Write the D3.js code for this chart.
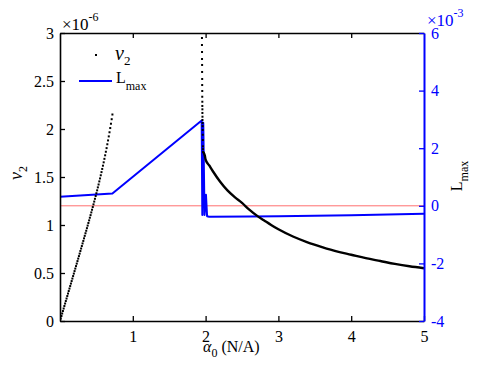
<!DOCTYPE html>
<html>
<head>
<meta charset="utf-8">
<script src="https://cdn.jsdelivr.net/npm/d3@7"></script>
<style>
body { margin: 0; background: #fff; }
text { font-family: "Liberation Serif", "Times New Roman", serif; }
</style>
</head>
<body>
<div id="chart"></div>
<script>
// v2 (x1e-6) against alpha0, first branch (dotted)
var alphaRise = [0,0.01,0.02,0.03,0.04,0.05,0.06,0.07,0.08,0.09,0.10,0.11,0.12,0.13,0.14,0.15,0.16,0.17,0.18,0.19,
  0.20,0.21,0.22,0.23,0.24,0.25,0.26,0.27,0.28,0.29,0.30,0.31,0.32,0.33,0.34,0.35,0.36,0.37,0.38,0.39,
  0.40,0.41,0.42,0.43,0.44,0.45,0.46,0.47,0.48,0.49,0.50,0.51,0.52,0.53,0.54,0.55,0.56,0.57,0.58,0.59,
  0.60,0.61,0.62,0.63,0.64,0.65,0.66,0.67,0.68,0.69,0.70,0.71,0.72];
var v2Rise = [0,0.026,0.052,0.078,0.104,0.130,0.156,0.182,0.208,0.234,0.260,0.286,0.312,0.338,0.364,0.390,0.416,0.442,0.468,0.494,
  0.520,0.546,0.572,0.598,0.624,0.650,0.676,0.702,0.729,0.755,0.781,0.808,0.834,0.861,0.887,0.914,0.940,0.967,0.994,1.021,
  1.048,1.076,1.103,1.131,1.159,1.187,1.215,1.244,1.273,1.302,1.331,1.361,1.392,1.422,1.454,1.485,1.518,1.551,1.584,1.618,
  1.653,1.689,1.726,1.763,1.801,1.841,1.881,1.923,1.966,2.010,2.055,2.102,2.151];

// second branch, near-vertical dotted part
var alphaDrop = [1.950,1.950,1.951,1.951,1.952,1.952,1.953,1.953,1.954,1.954,1.955,1.955,1.956,1.956,1.957,1.957,1.958,1.959,1.960,1.961,1.962,1.963,1.964,1.965];
var v2Drop = [2.948,2.875,2.802,2.729,2.667,2.594,2.521,2.458,2.396,2.336,2.284,2.240,2.205,2.167,2.128,2.094,2.063,2.030,1.990,1.940,1.885,1.820,1.790,1.760];

// second branch, decaying part (solid)
var alphaDecay = [1.97,1.99,2.0,2.05,2.1,2.2,2.3,2.4,2.5,2.6,2.7,2.8,2.9,3.0,3.2,3.4,3.6,3.8,4.0,4.2,4.4,4.6,4.8,5.0];
var v2Decay = [1.76,1.72,1.68,1.62,1.56,1.45,1.36,1.29,1.23,1.16,1.10,1.05,1.00,0.955,0.88,0.82,0.77,0.725,0.69,0.655,0.625,0.595,0.57,0.55];

// L_max (x1e-3)
var alphaL = [0,0.72,1.946,1.955,1.968,1.985,2.005,2.02,2.05,2.6,3.0,3.5,4.0,4.5,5.0];
var Lmax = [0.31,0.43,2.96,-0.32,2.88,-0.32,0.38,-0.36,-0.38,-0.375,-0.36,-0.345,-0.33,-0.305,-0.275];

var xTicks = [1,2,3,4,5];
var yLeftTicks = [0,0.5,1,1.5,2,2.5,3];
var yRightTicks = [-4,-2,0,2,4,6];

var width = 483, height = 366;
var pLeft = 60, pRight = 424, pTop = 33, pBottom = 321;
var blue = "#0000ff";

var svg = d3.select("#chart").append("svg")
    .attr("width", width)
    .attr("height", height);

var x = d3.scaleLinear().domain([0, 5]).range([pLeft, pRight]);
var yL = d3.scaleLinear().domain([0, 3]).range([pBottom, pTop]);
var yR = d3.scaleLinear().domain([-4, 6]).range([pBottom, pTop]);

svg.append("clipPath").attr("id", "clip")
  .append("rect").attr("x", pLeft).attr("y", pTop).attr("width", pRight - pLeft).attr("height", pBottom - pTop);

var plot = svg.append("g").attr("clip-path", "url(#clip)");

// zero reference line
plot.append("line")
  .attr("x1", x(0)).attr("x2", x(5))
  .attr("y1", yR(0)).attr("y2", yR(0))
  .attr("stroke", "#ff7070")
  .attr("stroke-width", 1);

// L_max line
var lineL = d3.line()
  .x(function(d, i) { return x(alphaL[i]); })
  .y(function(d) { return yR(d); });

plot.append("path")
  .attr("d", lineL(Lmax))
  .attr("fill", "none")
  .attr("stroke", blue)
  .attr("stroke-width", 2)
  .attr("stroke-linejoin", "round");

// v2 dotted points
var dots = alphaRise.map(function(a, i) { return [a, v2Rise[i]]; })
  .concat(alphaDrop.map(function(a, i) { return [a, v2Drop[i]]; }));

plot.selectAll("rect.dot").data(dots).enter().append("rect")
  .attr("class", "dot")
  .attr("x", function(d) { return x(d[0]) - 1; })
  .attr("y", function(d) { return yL(d[1]) - 1; })
  .attr("width", 2).attr("height", 2)
  .attr("fill", "#000");

// v2 decaying branch
var lineV = d3.line()
  .x(function(d, i) { return x(alphaDecay[i]); })
  .y(function(d) { return yL(d); })
  .curve(d3.curveMonotoneX);

plot.append("path")
  .attr("d", lineV(v2Decay))
  .attr("fill", "none")
  .attr("stroke", "#000")
  .attr("stroke-width", 2.4);

// axes
var fmt = function(d) { return String(d); };

svg.append("g")
  .attr("transform", "translate(0," + pBottom + ")")
  .call(d3.axisBottom(x).tickValues(xTicks).tickSize(-5).tickSizeOuter(0).tickPadding(10).tickFormat(fmt));

svg.append("g")
  .attr("transform", "translate(0," + pTop + ")")
  .call(d3.axisTop(x).tickValues([1,2,3,4]).tickSize(-5).tickSizeOuter(0).tickFormat(""));

svg.append("g")
  .attr("transform", "translate(" + pLeft + ",0)")
  .call(d3.axisLeft(yL).tickValues(yLeftTicks).tickSize(-5).tickSizeOuter(0).tickPadding(6).tickFormat(fmt));

var gR = svg.append("g")
  .attr("class", "raxis")
  .attr("transform", "translate(" + pRight + ",0)")
  .call(d3.axisRight(yR).tickValues(yRightTicks).tickSize(-5).tickSizeOuter(0).tickPadding(7).tickFormat(fmt));

svg.selectAll(".domain").attr("stroke-width", 1.6);
svg.selectAll(".tick line").attr("stroke-width", 1.3);
svg.selectAll(".tick text").attr("font-size", 16).attr("font-family", "Liberation Serif, Times New Roman, serif").attr("fill", "#000");
gR.selectAll(".domain, .tick line").attr("stroke", blue);
gR.selectAll(".domain").attr("stroke-width", 2);
gR.selectAll(".tick text").attr("fill", blue);

// exponent labels
var e1 = svg.append("text").attr("x", 62).attr("y", 30).attr("font-size", 17);
e1.append("tspan").text("\u00d710");
e1.append("tspan").attr("font-size", 12).attr("dy", -9).text("-6");

var e2 = svg.append("text").attr("x", 427).attr("y", 26).attr("font-size", 17).attr("fill", blue);
e2.append("tspan").text("\u00d710");
e2.append("tspan").attr("font-size", 12).attr("dy", -9).text("-3");

// axis titles
var tl = svg.append("text")
  .attr("transform", "translate(22,173) rotate(-90)")
  .attr("text-anchor", "middle")
  .attr("font-size", 18);
tl.append("tspan").attr("font-style", "italic").text("v");
tl.append("tspan").attr("font-size", 12).attr("dy", 5).text("2");

var tr = svg.append("text")
  .attr("transform", "translate(462,176) rotate(-90)")
  .attr("text-anchor", "middle")
  .attr("font-size", 16);
tr.append("tspan").text("L");
tr.append("tspan").attr("font-size", 12).attr("dy", 6).text("max");

var tx = svg.append("text")
  .attr("x", 203).attr("y", 352)
  .attr("font-size", 16);
tx.append("tspan").attr("font-style", "italic").text("\u03b1");
tx.append("tspan").attr("font-size", 12).attr("dy", 5).text("0");
tx.append("tspan").attr("dy", -5).text(" (N/A)");

// legend
svg.append("rect").attr("x", 95).attr("y", 54).attr("width", 2).attr("height", 2).attr("fill", "#000");
var lg1 = svg.append("text").attr("x", 115).attr("y", 60).attr("font-size", 20);
lg1.append("tspan").attr("font-style", "italic").text("v");
lg1.append("tspan").attr("font-size", 13).attr("dy", 5).text("2");

svg.append("line").attr("x1", 79).attr("x2", 112).attr("y1", 81).attr("y2", 81)
  .attr("stroke", blue).attr("stroke-width", 2);
var lg2 = svg.append("text").attr("x", 116).attr("y", 83).attr("font-size", 16);
lg2.append("tspan").text("L");
lg2.append("tspan").attr("font-size", 12).attr("dy", 7).text("max");
</script>
</body>
</html>
